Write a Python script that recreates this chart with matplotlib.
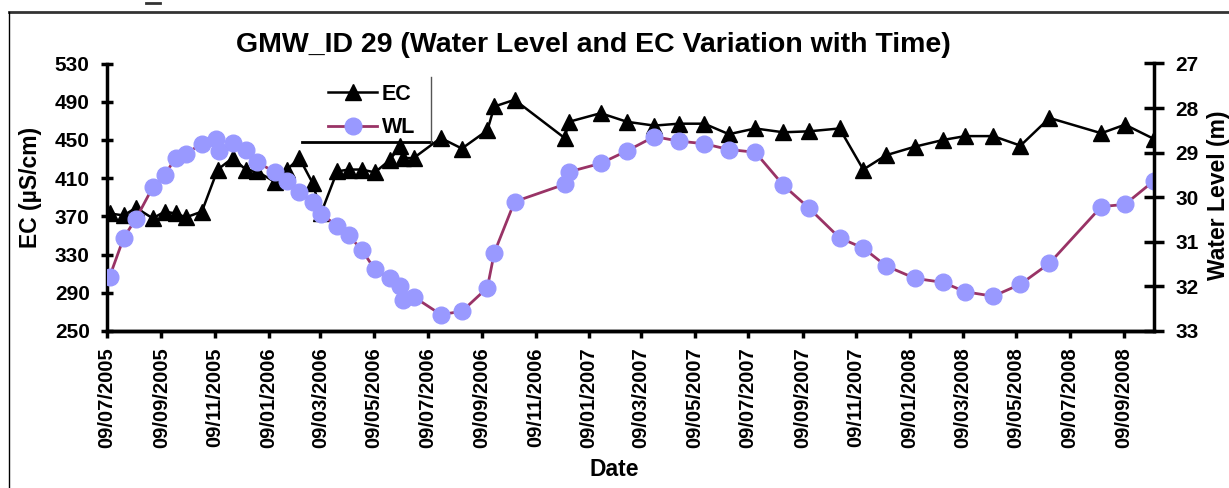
import matplotlib
matplotlib.use('Agg')
import matplotlib.pyplot as plt
import matplotlib.dates as mdates
from matplotlib.lines import Line2D
import pandas as pd

plt.rcParams['font.family'] = ['Liberation Sans', 'DejaVu Sans']
plt.rcParams['font.weight'] = 'bold'

# EC readings (uS/cm)
ec_dates = ['2005-07-12', '2005-07-28', '2005-08-11', '2005-08-30', '2005-09-13', '2005-09-25',
            '2005-10-07', '2005-10-25', '2005-11-12', '2005-11-29', '2005-12-14', '2005-12-27',
            '2006-01-16', '2006-01-30', '2006-02-13', '2006-02-28', '2006-03-10', '2006-03-28',
            '2006-04-10', '2006-04-25', '2006-05-10', '2006-05-27', '2006-06-08', '2006-06-11',
            '2006-06-23', '2006-07-24', '2006-08-17', '2006-09-15', '2006-09-23', '2006-10-16',
            '2006-12-12', '2006-12-17', '2007-01-22', '2007-02-21', '2007-03-24', '2007-04-21',
            '2007-05-20', '2007-06-17', '2007-07-17', '2007-08-18', '2007-09-16', '2007-10-21',
            '2007-11-17', '2007-12-13', '2008-01-15', '2008-02-16', '2008-03-12', '2008-04-13',
            '2008-05-14', '2008-06-16', '2008-08-14', '2008-09-10', '2008-10-13']
ec_values = [373, 371, 379, 368, 375, 373, 369, 375, 419, 431, 419, 417, 406, 419, 431, 405,
             374, 417, 419, 419, 416, 429, 444, 431, 431, 452, 441, 460, 485, 492, 452, 469,
             478, 469, 465, 467, 467, 456, 462, 458, 459, 462, 419, 434, 443, 450, 454, 454,
             444, 473, 457, 466, 451]

# water level readings (m)
wl_dates = ['2005-07-12', '2005-07-28', '2005-08-11', '2005-08-30', '2005-09-13', '2005-09-25',
            '2005-10-07', '2005-10-25', '2005-11-10', '2005-11-14', '2005-11-29', '2005-12-14',
            '2005-12-27', '2006-01-16', '2006-01-30', '2006-02-13', '2006-02-28', '2006-03-10',
            '2006-03-28', '2006-04-10', '2006-04-25', '2006-05-10', '2006-05-27', '2006-06-08',
            '2006-06-11', '2006-06-23', '2006-07-24', '2006-08-17', '2006-09-15', '2006-09-23',
            '2006-10-16', '2006-12-12', '2006-12-17', '2007-01-22', '2007-02-21', '2007-03-24',
            '2007-04-21', '2007-05-20', '2007-06-17', '2007-07-17', '2007-08-18', '2007-09-16',
            '2007-10-21', '2007-11-17', '2007-12-13', '2008-01-15', '2008-02-16', '2008-03-12',
            '2008-04-13', '2008-05-14', '2008-06-16', '2008-08-14', '2008-09-10', '2008-10-13']
wl_values = [31.78, 30.91, 30.48, 29.78, 29.50, 29.11, 29.02, 28.80, 28.69, 28.97, 28.79, 28.95,
             29.22, 29.43, 29.63, 29.88, 30.10, 30.37, 30.65, 30.85, 31.18, 31.62, 31.82, 32.00,
             32.31, 32.23, 32.63, 32.56, 32.03, 31.24, 30.10, 29.71, 29.43, 29.24, 28.96, 28.64,
             28.74, 28.80, 28.93, 28.99, 29.73, 30.24, 30.91, 31.14, 31.54, 31.82, 31.91, 32.12,
             32.22, 31.95, 31.48, 30.21, 30.16, 29.63]

W, H = 1229, 488
fig = plt.figure(figsize=(W / 100, H / 100), dpi=100)
ax = fig.add_axes([107 / W, 1 - 331 / H, (1154 - 107) / W, (331 - 63.5) / H])

ax.plot(pd.to_datetime(ec_dates), ec_values, color='black', lw=1.8,
        marker='^', ms=11.5, label='EC')
ax2 = ax.twinx()
ax2.plot(pd.to_datetime(wl_dates), wl_values, color='#993366', lw=2,
         marker='o', ms=12, mfc='#9999FF', mec='#9999FF', label='WL')

ax.set_xlim(pd.Timestamp('2005-07-09'), pd.Timestamp('2008-10-13'))
ax.set_ylim(250, 530)
ax.set_yticks(range(250, 531, 40))
ax2.set_ylim(33, 27)
ax2.set_yticks(range(27, 34))

ax.xaxis.set_major_locator(mdates.MonthLocator(bymonth=[1, 3, 5, 7, 9, 11], bymonthday=9))
ax.xaxis.set_major_formatter(mdates.DateFormatter('%d/%m/%Y'))
plt.setp(ax.get_xticklabels(), rotation=90)

for a in (ax, ax2):
    a.spines['top'].set_visible(False)
    for s in a.spines.values():
        s.set_linewidth(2.5)
ax.spines['right'].set_visible(False)
ax2.spines['left'].set_visible(False)

ax.tick_params(axis='x', direction='out', length=5, width=2.5, pad=7, labelsize=14.5)
ax.tick_params(axis='y', direction='inout', length=9, width=2.5, pad=8, labelsize=15)
ax2.tick_params(axis='y', direction='inout', length=15, width=2.5, pad=8, labelsize=15)

fig.text(593 / W, 1 - 45 / H, 'GMW_ID 29 (Water Level and EC Variation with Time)',
         ha='center', va='center', fontsize=20.5, fontweight='bold')
fig.text(30 / W, 1 - 187 / H, 'EC (µS/cm)', rotation=90, ha='center', va='center',
         fontsize=16.5, fontweight='bold')
fig.text(1218 / W, 1 - 195 / H, 'Water Level (m)', rotation=90, ha='center', va='center',
         fontsize=16.5, fontweight='bold')
fig.text(614 / W, 1 - 470 / H, 'Date', ha='center', va='center',
         fontsize=16.5, fontweight='bold')

h1, l1 = ax.get_legend_handles_labels()
h2, l2 = ax2.get_legend_handles_labels()
ax2.legend(h1 + h2, l1 + l2, loc='upper left', bbox_to_anchor=(0.211, 0.925),
           frameon=False, fontsize=15.5, handlelength=2.3, handletextpad=0.2,
           labelspacing=0.6, borderpad=0, borderaxespad=0)

# partial legend frame and chart-area border
def px_line(xs, ys, **kw):
    fig.add_artist(Line2D([x / W for x in xs], [1 - y / H for y in ys],
                          transform=fig.transFigure, **kw))

px_line([302, 431], [142, 142], color='black', lw=2)
px_line([431, 431], [77, 142], color='#555555', lw=1)
px_line([9, W], [12, 12], color='#333333', lw=2)
px_line([9, 9], [12, H], color='black', lw=1)
px_line([146, 160], [3, 3], color='#333333', lw=2)

fig.savefig('out.png', dpi=100)
